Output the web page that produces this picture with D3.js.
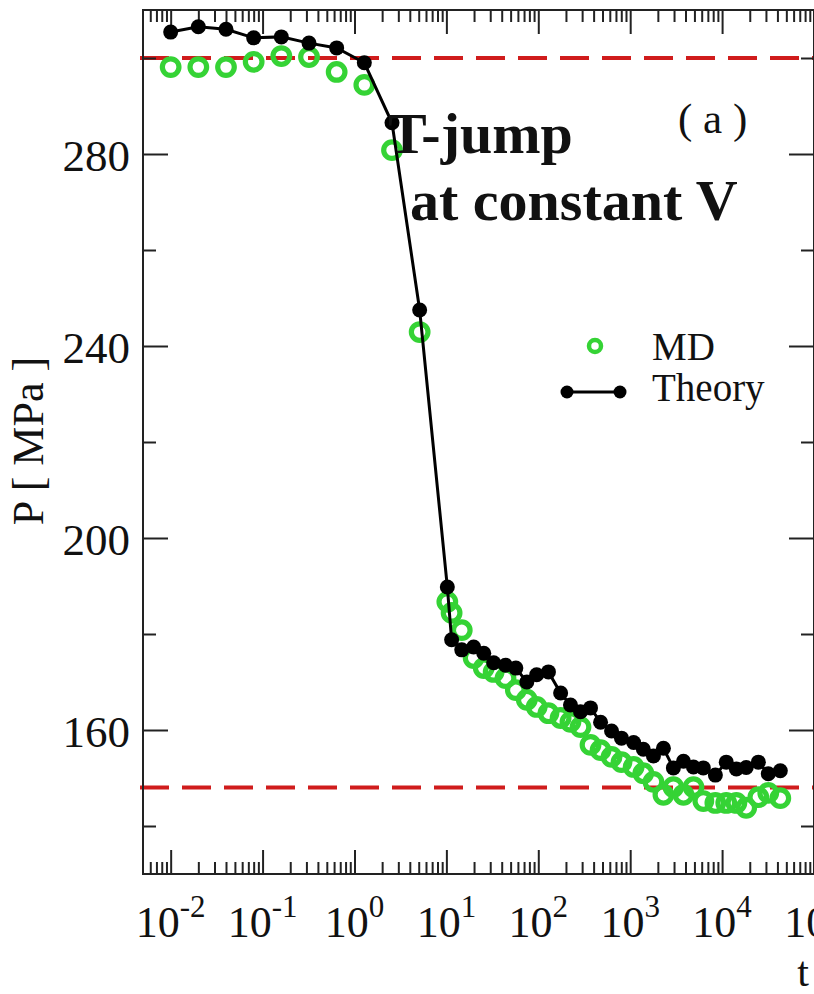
<!DOCTYPE html>
<html>
<head>
<meta charset="utf-8">
<script src="https://cdn.jsdelivr.net/npm/d3@7"></script>
<style>
  html, body { margin: 0; padding: 0; background: #fff; }
  svg { display: block; }
  text { font-family: "Liberation Serif", "Times New Roman", serif; fill: #111; }
</style>
</head>
<body>
<svg id="chart" width="814" height="994"></svg>
<script>
// ---- data ----
const times = [0.01, 0.02, 0.04, 0.08, 0.16, 0.32, 0.64, 1.28, 2.56, 5.12, 10.24,
  11.4, 14.7, 19.8, 25.5, 32.7, 44, 57, 75, 96, 129, 175, 224, 288, 370, 476, 627, 804,
  1090, 1390, 1790, 2300, 2950, 3800, 4880, 6250, 8450, 11100, 14300, 18300, 24800, 31800, 43000];
const theoryP = [305.4, 306.5, 306.0, 304.2, 304.4, 303.1, 302.1, 299.0, 286.5, 247.5, 189.8,
  178.8, 176.7, 177.3, 176.0, 174.0, 173.5, 172.9, 170.0, 171.5, 172.1, 167.7, 165.2, 163.8,
  164.6, 161.6, 159.8, 158.3, 157.4, 156.0, 154.6, 156.2, 152.1, 153.5, 152.3, 152.1, 150.6,
  153.3, 151.9, 152.2, 153.3, 150.9, 151.5];
const mdP = [298.1, 298.1, 298.1, 299.2, 300.4, 300.2, 297.1, 294.4, 280.8, 242.9,
  186.7, 184.4, 180.8, 175.0, 172.9, 172.1, 170.8, 168.3, 166.3, 164.8, 163.5, 162.5, 161.7,
  160.6, 156.9, 155.8, 154.4, 153.3, 152.3, 151.0, 149.2, 146.5, 148.1, 146.5, 148.1, 145.2,
  144.8, 144.8, 144.8, 143.8, 146.0, 146.9, 145.8];
const refLines = [300, 148];
const xDecades = [-2, -1, 0, 1, 2, 3, 4, 5];
const yMajor = [160, 200, 240, 280];
const yMinor = [140, 180, 220, 260, 300];
const xDomain = [0.005, 1e5];
const yDomain = [130, 310];

// ---- layout ----
const L = 143, R = 814, T = 10, B = 874;
const svg = d3.select("#chart");
svg.append("rect").attr("width", 814).attr("height", 994).attr("fill", "#fff");

const x = d3.scaleLog().domain(xDomain).range([L, R]);
const y = d3.scaleLinear().domain(yDomain).range([B, T]);

const xMajorVals = xDecades.map(k => Math.pow(10, k));
const xMinorVals = [];
for (let k = -3; k <= 4; k++) for (let m = 2; m <= 9; m++) {
  const v = m * Math.pow(10, k);
  if (v > xDomain[0] && v < xDomain[1]) xMinorVals.push(v);
}

function styleAxis(g) {
  g.select(".domain").remove();
  g.selectAll(".tick line").attr("stroke", "#222").attr("stroke-width", 2);
}

// reference dashed lines
svg.selectAll(".ref").data(refLines).join("line")
  .attr("x1", L - 3).attr("x2", R)
  .attr("y1", d => y(d)).attr("y2", d => y(d))
  .attr("stroke", "#d01c1c").attr("stroke-width", 4)
  .attr("stroke-dasharray", "29,13");

// axes ticks (inward)
svg.append("g").attr("transform", `translate(0,${B})`)
  .call(d3.axisBottom(x).tickValues(xMajorVals).tickSize(-24).tickSizeOuter(0).tickFormat(""))
  .call(styleAxis);
svg.append("g").attr("transform", `translate(0,${B})`)
  .call(d3.axisBottom(x).tickValues(xMinorVals).tickSize(-12).tickSizeOuter(0).tickFormat(""))
  .call(styleAxis);
svg.append("g").attr("transform", `translate(0,${T})`)
  .call(d3.axisTop(x).tickValues(xMajorVals).tickSize(-24).tickSizeOuter(0).tickFormat(""))
  .call(styleAxis);
svg.append("g").attr("transform", `translate(0,${T})`)
  .call(d3.axisTop(x).tickValues(xMinorVals).tickSize(-12).tickSizeOuter(0).tickFormat(""))
  .call(styleAxis);

const yLeft = svg.append("g").attr("transform", `translate(${L},0)`)
  .call(d3.axisLeft(y).tickValues(yMajor).tickSize(-25).tickSizeOuter(0).tickPadding(13))
  .call(styleAxis);
yLeft.selectAll(".tick text")
  .attr("font-family", "Liberation Serif, serif").attr("font-size", 45)
  .attr("fill", "#111").attr("dy", "0.36em");
svg.append("g").attr("transform", `translate(${L},0)`)
  .call(d3.axisLeft(y).tickValues(yMinor).tickSize(-13).tickSizeOuter(0).tickFormat(""))
  .call(styleAxis);
svg.append("g").attr("transform", `translate(${R},0)`)
  .call(d3.axisRight(y).tickValues(yMajor).tickSize(-25).tickSizeOuter(0).tickFormat(""))
  .call(styleAxis);
svg.append("g").attr("transform", `translate(${R},0)`)
  .call(d3.axisRight(y).tickValues(yMinor).tickSize(-13).tickSizeOuter(0).tickFormat(""))
  .call(styleAxis);

// frame
svg.append("rect").attr("x", L).attr("y", T).attr("width", R - L).attr("height", B - T)
  .attr("fill", "none").attr("stroke", "#222").attr("stroke-width", 2);

// x tick labels 10^k
const xl = svg.append("g");
xDecades.forEach(k => {
  const t = xl.append("text").attr("x", x(Math.pow(10, k))).attr("y", 937)
    .attr("text-anchor", "middle").attr("font-size", 44);
  t.append("tspan").text("10");
  t.append("tspan").attr("dy", -20).attr("font-size", 31).text(String(k));
});

// axis titles
svg.append("text").attr("x", 803).attr("y", 986).attr("text-anchor", "middle")
  .attr("font-size", 42).text("t");
svg.append("text").attr("transform", "translate(43,441) rotate(-90)")
  .attr("text-anchor", "middle").attr("font-size", 44).text("P [ MPa ]");

// MD circles
const md = times.map((t, i) => ({t, p: mdP[i]}));
svg.append("g").selectAll("circle").data(md).join("circle")
  .attr("cx", d => x(d.t)).attr("cy", d => y(d.p)).attr("r", 8.3)
  .attr("fill", "none").attr("stroke", "#35d335").attr("stroke-width", 5.2);

// Theory line + markers
const th = times.map((t, i) => ({t, p: theoryP[i]}));
svg.append("path").datum(th)
  .attr("d", d3.line().x(d => x(d.t)).y(d => y(d.p)))
  .attr("fill", "none").attr("stroke", "#000").attr("stroke-width", 3);
svg.append("g").selectAll("circle").data(th).join("circle")
  .attr("cx", d => x(d.t)).attr("cy", d => y(d.p)).attr("r", 7.5).attr("fill", "#000");

// legend
svg.append("circle").attr("cx", 595).attr("cy", 346).attr("r", 6)
  .attr("fill", "none").attr("stroke", "#35d335").attr("stroke-width", 4.5);
svg.append("text").attr("x", 652).attr("y", 360).attr("font-size", 39).text("MD");
svg.append("line").attr("x1", 567).attr("x2", 620).attr("y1", 392).attr("y2", 392)
  .attr("stroke", "#000").attr("stroke-width", 3);
[567, 620].forEach(cx => svg.append("circle").attr("cx", cx).attr("cy", 392).attr("r", 6.5).attr("fill", "#000"));
svg.append("text").attr("x", 652).attr("y", 401).attr("font-size", 39).text("Theory");

// panel label & annotation
svg.append("text").attr("x", 678).attr("y", 133).attr("font-size", 43).text("( a )");
svg.append("text").attr("x", 388).attr("y", 153).attr("font-size", 58)
  .attr("font-weight", "bold").attr("fill", "#000").text("T-jump");
svg.append("text").attr("x", 410).attr("y", 220).attr("font-size", 58)
  .attr("font-weight", "bold").attr("fill", "#000").text("at constant V");
</script>
</body>
</html>
